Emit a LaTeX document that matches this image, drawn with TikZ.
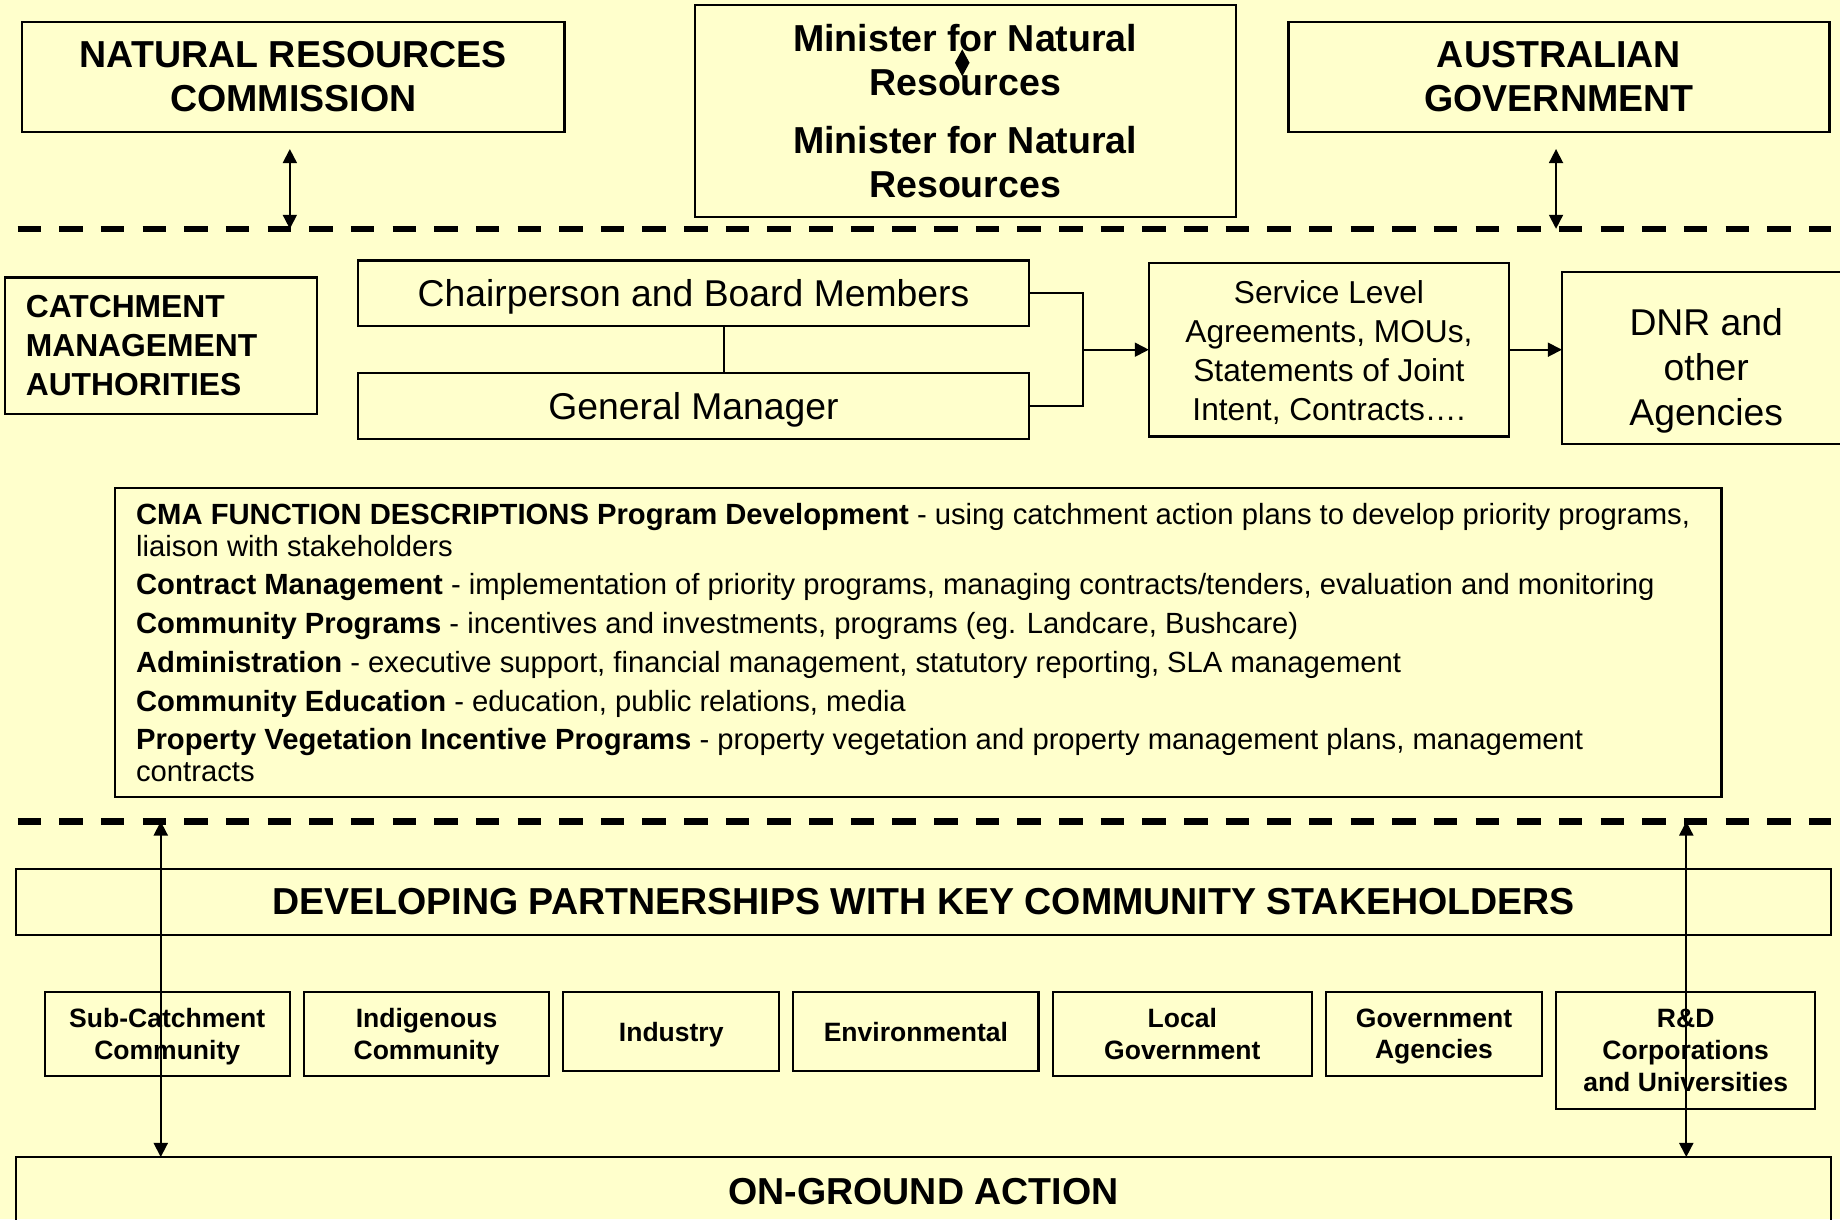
\documentclass[tikz,border=0pt]{standalone}
\usepackage{fontspec}
\setmainfont{Liberation Sans}
\usepackage{tikz}
\usetikzlibrary{positioning,arrows.meta}
\definecolor{paleyellow}{HTML}{FFFFCC}

\begin{document}
\begin{tikzpicture}[x=1pt,y=-1pt,
	>={Triangle[length=12pt,width=12pt]},
	box/.style={draw,line width=1.8pt,inner sep=0pt,outer sep=0pt,align=center},
	headbox/.style={box,text depth=0pt,font=\bfseries\fontsize{32}{37.5}\selectfont},
	textbox/.style={box,text depth=0pt,font=\fontsize{31.8}{38.5}\selectfont},
	stake/.style={box,text depth=0pt,anchor=north,font=\bfseries\fontsize{22.6}{27}\selectfont},
	dashline/.style={line width=5.5pt,dash pattern=on 20pt off 15.5pt},
	link/.style={line width=1.5pt}]
	\useasboundingbox (0,0) rectangle (1568,1039);
	\fill[paleyellow] (0,0) rectangle (1568,1039);
	\clip (0,0) rectangle (1568,1039);

	\node[headbox,minimum width=462pt,minimum height=94pt] (nrc) at (250,65.5) {NATURAL RESOURCES\\COMMISSION};
	\node[headbox,minimum width=461pt,minimum height=181pt,font=\bfseries\fontsize{32}{38}\selectfont] (minister) at (822.5,94.5)
		{Minister for Natural\\Resources\\[11pt]Minister for Natural\\Resources};
	\node[headbox,minimum width=461pt,minimum height=94pt] (ausgov) at (1328.5,65.5) {AUSTRALIAN\\GOVERNMENT};

	\node[box,minimum height=116pt,text width=230pt,inner xsep=18pt,align=left,font=\bfseries\fontsize{27.1}{33}\selectfont] (cma) at (137,294.5)
		{CATCHMENT\\MANAGEMENT\\AUTHORITIES};
	\node[textbox,minimum width=572pt,minimum height=56pt] (chair) at (591,250) {Chairperson and Board Members};
	\node[textbox,minimum width=572pt,minimum height=56pt] (gm) at (591,346) {General Manager};
	\node[box,minimum width=307pt,minimum height=148pt,text depth=0pt,text height=120pt,font=\fontsize{27}{33}\selectfont] (sla) at (1132.5,298)
		{Service Level\\Agreements, MOUs,\\Statements of Joint\\Intent, Contracts….};
	\node[textbox,minimum width=246pt,minimum height=146pt,text height=115pt] (dnr) at (1454,305) {DNR and\\other\\Agencies};

	\node[box,minimum width=1369pt,minimum height=263pt,text width=1333pt,inner xsep=18pt,align=flush left,
		font=\fontsize{24.9}{27}\selectfont] (func) at (782.5,547.5)
		{{\bfseries CMA FUNCTION DESCRIPTIONS Program Development} - using catchment action plans to develop priority programs,\\
		liaison with stakeholders\\[6pt]
		{\bfseries Contract Management} - implementation of priority programs, managing contracts/tenders, evaluation and monitoring\\[6pt]
		{\bfseries Community Programs} - incentives and investments, programs (eg. Landcare, Bushcare)\\[6pt]
		{\bfseries Administration} - executive support, financial management, statutory reporting, SLA management\\[6pt]
		{\bfseries Community Education} - education, public relations, media\\[6pt]
		{\bfseries Property Vegetation Incentive Programs} - property vegetation and property management plans, management\\
		contracts};

	\node[headbox,minimum width=1546pt,minimum height=56pt] (partners) at (787,768.5) {DEVELOPING PARTNERSHIPS WITH KEY COMMUNITY STAKEHOLDERS};
	\node[headbox,minimum width=1546pt,minimum height=58pt] (ground) at (787,1015) {ON-GROUND ACTION};

	\node[stake,minimum width=209pt,minimum height=72pt] (subc) at (142.5,845) {Sub-Catchment\\Community};
	\node[stake,minimum width=209pt,minimum height=72pt,right=12pt of subc.north east,anchor=north west] (indig) {Indigenous\\Community};
	\node[stake,minimum width=184pt,minimum height=68pt,right=12pt of indig.north east,anchor=north west] (industry) {Industry};
	\node[stake,minimum width=209pt,minimum height=68pt,right=12pt of industry.north east,anchor=north west] (env) {Environmental};
	\node[stake,minimum width=221pt,minimum height=72pt,right=12pt of env.north east,anchor=north west] (localgov) {Local\\Government};
	\node[stake,minimum width=184pt,minimum height=72pt,right=12pt of localgov.north east,anchor=north west] (govag) {Government\\Agencies};
	\node[stake,minimum width=221pt,minimum height=100pt,right=12pt of govag.north east,anchor=north west] (rnd) {R\&D\\Corporations\\and Universities};

	\coordinate (tw) at (15,195);
	\coordinate (te) at (1560,195);
	\coordinate (bw) at (15,700);
	\coordinate (be) at (1560,700);
	\draw[dashline] (tw) -- (te);
	\draw[dashline] (bw) -- (be);

	\coordinate (nrc-up) at (247,127);
	\coordinate (aus-up) at (1326,127);
	\path[link,<->] (nrc-up) edge (nrc-up |- tw)
		(aus-up) edge (aus-up |- te);

	\coordinate (mn-top) at (820,42);
	\coordinate (mn-bot) at (820,65);
	\path[link,<->,>={Triangle[length=11.5pt,width=12pt]}] (mn-top) edge (mn-bot);

	\coordinate (board) at (617,0);
	\draw[link] (board |- chair.south) -- (board |- gm.north);
	\coordinate (fork) at (923,0);
	\draw[link] (chair.east) -| (fork |- gm.east) -- (gm.east);
	\path[link,->] (fork |- sla.west) edge (sla.west)
		(sla.east) edge (sla.east -| dnr.west);

	\coordinate (sub-link) at (137,0);
	\coordinate (rnd-link) at (1437,0);
	\path[link,<->] (sub-link |- bw) edge (sub-link |- ground.north)
		(rnd-link |- bw) edge (rnd-link |- ground.north);
\end{tikzpicture}
\end{document}
